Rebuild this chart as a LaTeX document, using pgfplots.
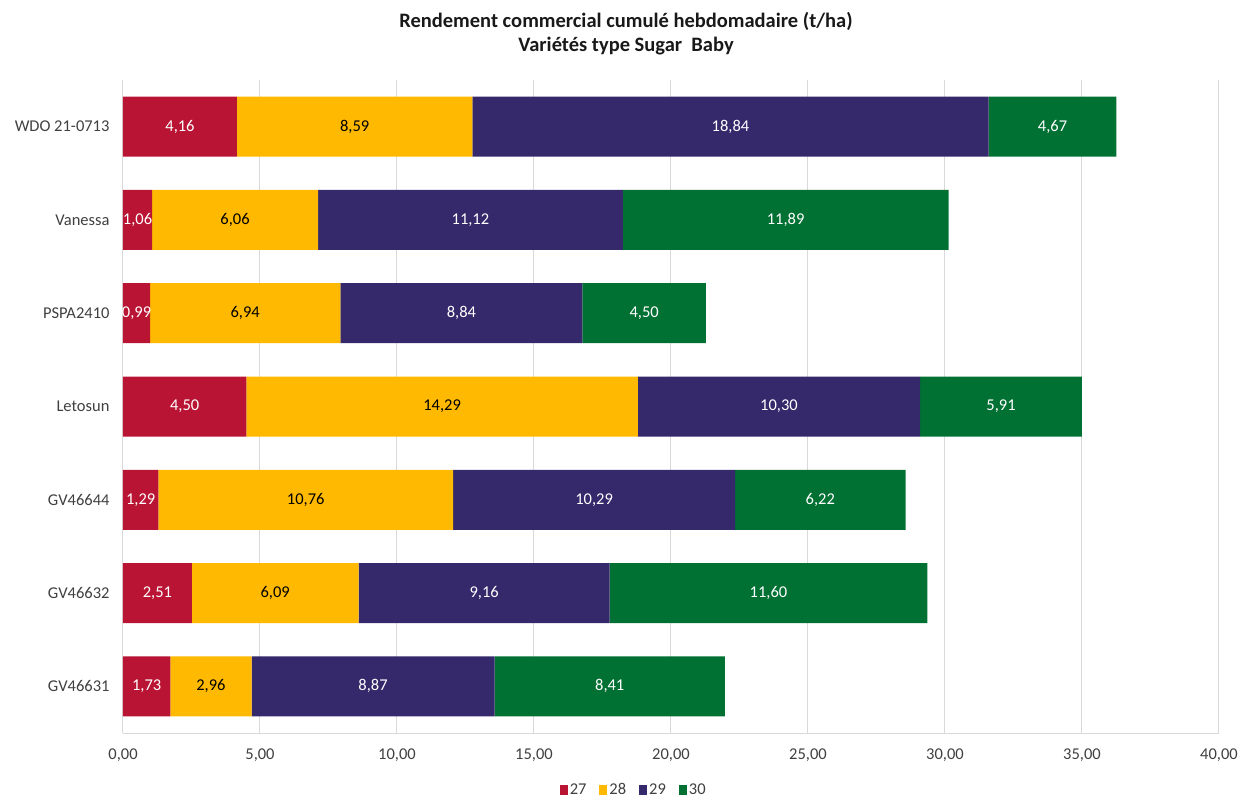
\documentclass[border=0pt]{standalone}
\usepackage{pgfplots}
\pgfplotsset{compat=1.18}
\usepackage{fontspec}
\setmainfont{Carlito}
\definecolor{c27}{HTML}{B91434}
\definecolor{c28}{HTML}{FFB900}
\definecolor{c29}{HTML}{35286B}
\definecolor{c30}{HTML}{007033}
\definecolor{gridc}{HTML}{D9D9D9}
\definecolor{txt}{HTML}{404040}
\newcommand{\lblfont}{\fontsize{16.5}{20}\selectfont}
\begin{document}
\begin{tikzpicture}
\useasboundingbox (-123pt,-65pt) rectangle (1123pt,733pt);
\pgfplotsset{base/.style={
  at={(0pt,0pt)}, anchor=south west, scale only axis,
  width=1096pt, height=653pt,
  xmin=0, xmax=40, ymin=-0.5, ymax=6.5}}
\begin{axis}[base, xbar stacked, bar width=60pt,
  xtick={0,5,...,40}, ytick={0,...,6},
  yticklabels={GV46631,GV46632,GV46644,Letosun,PSPA2410,Vanessa,WDO 21-0713},
  xmajorgrids, grid style={gridc, line width=1pt},
  axis x line*=bottom, axis y line*=left,
  axis line style={gridc, line width=1pt, -},
  major tick length=0pt,
  x tick label style={/pgf/number format/.cd, fixed, fixed zerofill, precision=2, use comma, assume math mode=true, /tikz/.cd, font=\lblfont, text=txt, yshift=-12pt},
  y tick label style={font=\lblfont, text=txt, xshift=-10pt},
  legend style={at={(0.466,-0.087)}, anchor=center, draw=none, legend columns=4, font=\lblfont, text=txt,
    /tikz/every even column/.append style={column sep=11pt}},
  legend image code/.code={\fill[#1, draw=none] (0pt,-5pt) rectangle (8pt,5pt);},
]
\addplot[fill=c27, draw=none] coordinates {(1.73,0) (2.51,1) (1.29,2) (4.50,3) (0.99,4) (1.06,5) (4.16,6)};
\addplot[fill=c28, draw=none] coordinates {(2.96,0) (6.09,1) (10.76,2) (14.29,3) (6.94,4) (6.06,5) (8.59,6)};
\addplot[fill=c29, draw=none] coordinates {(8.87,0) (9.16,1) (10.29,2) (10.30,3) (8.84,4) (11.12,5) (18.84,6)};
\addplot[fill=c30, draw=none] coordinates {(8.41,0) (11.60,1) (6.22,2) (5.91,3) (4.50,4) (11.89,5) (4.67,6)};
\legend{27,28,29,30}
\end{axis}
\begin{axis}[base, hide axis,
  every node near coord/.append style={anchor=center, font=\lblfont}]
\addplot[draw=none, mark=none, nodes near coords, point meta=explicit symbolic,
  every node near coord/.append style={text=white}] table[meta=l] {
x y l
0.865 0 1,73
1.255 1 2,51
0.645 2 1,29
2.25 3 4,50
0.495 4 0,99
0.53 5 1,06
2.08 6 4,16
};
\addplot[draw=none, mark=none, nodes near coords, point meta=explicit symbolic,
  every node near coord/.append style={text=black}] table[meta=l] {
x y l
3.21 0 2,96
5.555 1 6,09
6.67 2 10,76
11.645 3 14,29
4.46 4 6,94
4.09 5 6,06
8.455 6 8,59
};
\addplot[draw=none, mark=none, nodes near coords, point meta=explicit symbolic,
  every node near coord/.append style={text=white}] table[meta=l] {
x y l
9.125 0 8,87
13.18 1 9,16
17.195 2 10,29
23.94 3 10,30
12.35 4 8,84
12.68 5 11,12
22.17 6 18,84
};
\addplot[draw=none, mark=none, nodes near coords, point meta=explicit symbolic,
  every node near coord/.append style={text=white}] table[meta=l] {
x y l
17.765 0 8,41
23.56 1 11,60
25.45 2 6,22
32.045 3 5,91
19.02 4 4,50
24.185 5 11,89
33.925 6 4,67
};
\end{axis}
\node[font=\bfseries\fontsize{20.5}{24}\selectfont, align=center, text=black!90] at (503pt,699pt) {Rendement commercial cumulé hebdomadaire (t/ha)\\Variétés type Sugar\ \ Baby};
\end{tikzpicture}
\end{document}
